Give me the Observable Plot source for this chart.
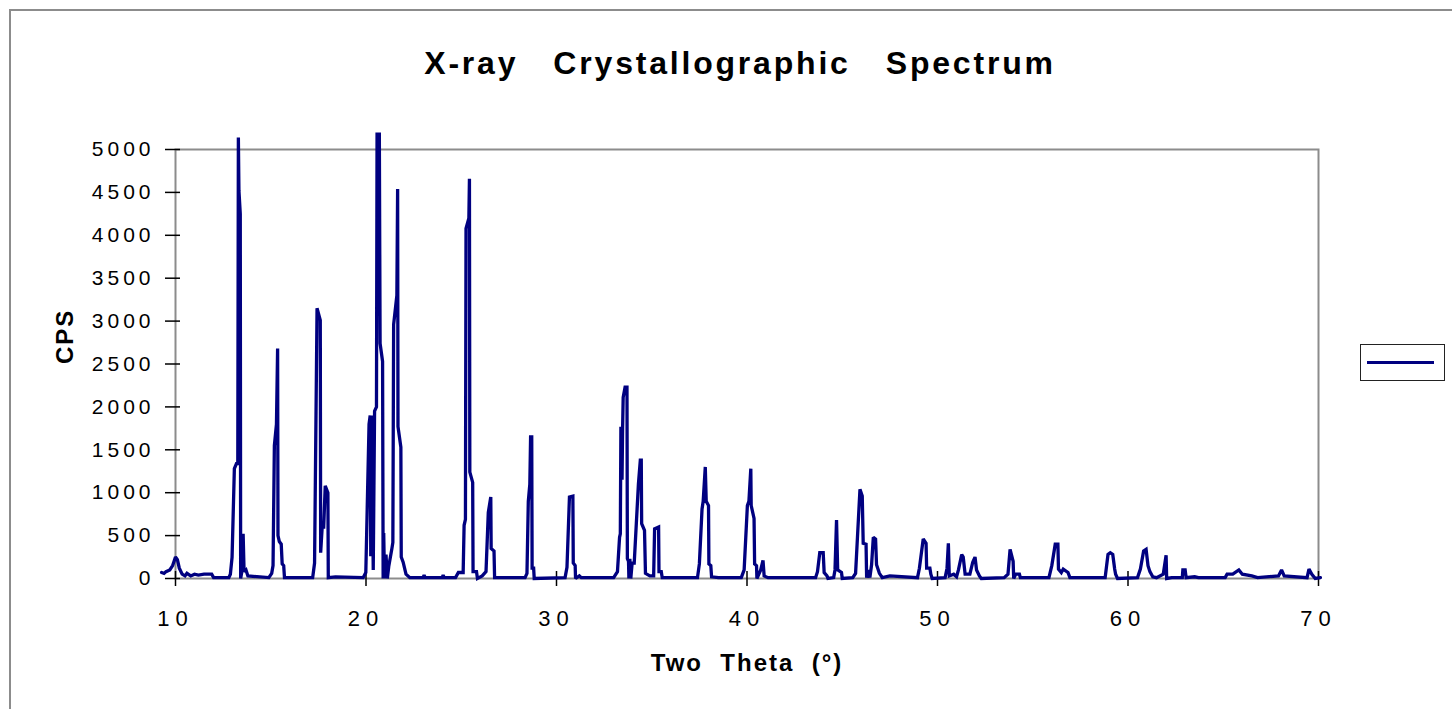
<!DOCTYPE html>
<html>
<head>
<meta charset="utf-8">
<script src="https://cdn.jsdelivr.net/npm/d3@7"></script>
<script src="https://cdn.jsdelivr.net/npm/@observablehq/plot@0.6"></script>
<style>
  html, body { margin: 0; padding: 0; background: #fff; overflow: hidden; }
  #wrap { position: relative; width: 1452px; height: 709px; font-family: "Liberation Sans", Arial, sans-serif; }
  #outer { position: absolute; left: 9px; top: 9px; width: 1500px; height: 760px; border-top: 2px solid #8c8c8c; border-left: 2px solid #8c8c8c; box-sizing: border-box; }
  #chart { position: absolute; left: 0; top: 0; }
  #legend { position: absolute; left: 1360px; top: 344px; width: 85px; height: 37px; border: 1px solid #222; box-sizing: border-box; background: #fff; }
  #legend .sw { position: absolute; left: 6px; top: 16px; width: 67px; height: 3px; background: #000080; }
</style>
</head>
<body>
<div id="wrap">
  <div id="outer"></div>
  <div id="chart"></div>
  <div id="legend"><div class="sw"></div></div>
</div>
<script>
// ---- Data ----
const chartTitle = "X-ray   Crystallographic   Spectrum";
const xLabel = "Two  Theta  (°)";
const yLabel = "CPS";
const xTicks = [10, 20, 30, 40, 50, 60, 70];
const yTicks = [0, 500, 1000, 1500, 2000, 2500, 3000, 3500, 4000, 4500, 5000];

const twoTheta = [
  9.27, 9.4, 9.5, 9.7, 9.85, 10.0, 10.1, 10.2, 10.35, 10.5, 10.6, 10.8, 11.0, 11.2, 11.5, 11.9, 12.0, 12.8,
  12.88, 12.97, 13.09, 13.2, 13.27, 13.3, 13.33, 13.4, 13.42, 13.5, 13.55, 13.6, 13.7, 13.8,
  14.9, 15.05, 15.12, 15.19, 15.3, 15.36, 15.38, 15.45, 15.55, 15.6, 15.68, 15.72,
  17.2, 17.3, 17.43, 17.6, 17.62, 17.7, 17.78, 17.86, 18.0, 18.02, 18.4,
  19.85, 19.99, 20.16, 20.22, 20.25, 20.3, 20.38, 20.45, 20.55, 20.58, 20.7, 20.74, 20.87, 20.9, 20.93, 20.97,
  21.05, 21.12, 21.2, 21.36, 21.41, 21.45, 21.62, 21.66, 21.68, 21.83, 21.85, 21.95, 22.1, 22.3,
  23.0, 23.05, 23.1, 24.0, 24.05, 24.1,
  24.7, 24.85, 25.1, 25.15, 25.22, 25.25, 25.4, 25.43, 25.45, 25.6, 25.62, 25.8, 25.85,
  26.1, 26.3, 26.42, 26.55, 26.57, 26.72, 26.75,
  28.35, 28.45, 28.52, 28.6, 28.64, 28.7, 28.72, 28.8, 28.83,
  30.45, 30.55, 30.68, 30.86, 30.88, 30.98, 31.0, 31.2, 31.3,
  33.0, 33.2, 33.31, 33.35, 33.38, 33.42, 33.44, 33.47, 33.5, 33.6, 33.7, 33.72, 33.78, 33.8, 33.85, 33.9,
  33.97, 34.08, 34.3, 34.4, 34.45, 34.47, 34.62, 34.67, 34.9, 35.1, 35.15, 35.36, 35.38, 35.5, 35.55,
  37.4, 37.5, 37.64, 37.7, 37.81, 37.86, 37.98, 38.0, 38.1, 38.14, 38.5,
  39.7, 39.85, 40.02, 40.1, 40.2, 40.22, 40.37, 40.4, 40.5, 40.52, 40.72, 40.84, 40.9, 41.1,
  43.6, 43.7, 43.82, 44.0, 44.05, 44.2, 44.25, 44.55, 44.62, 44.7, 44.76, 44.96, 45.0,
  45.55, 45.7, 45.81, 45.93, 46.05, 46.1, 46.25, 46.28, 46.35, 46.45, 46.54, 46.63, 46.75, 46.8, 46.95, 47.1, 47.5,
  48.95, 49.05, 49.25, 49.4, 49.43, 49.6, 49.65, 49.72,
  50.4, 50.5, 50.57, 50.62, 50.85, 51.0, 51.1, 51.27, 51.35, 51.45, 51.7, 51.85, 51.97, 52.05, 52.2, 52.3,
  53.5, 53.7, 53.81, 53.97, 54.0, 54.1, 54.3, 54.35,
  55.85, 56.0, 56.18, 56.32, 56.35, 56.5, 56.6, 56.85, 56.95,
  58.8, 58.95, 59.07, 59.2, 59.3, 59.35, 59.45,
  60.5, 60.65, 60.82, 60.95, 61.05, 61.15, 61.3, 61.5, 61.85, 62.0, 62.03, 62.3,
  62.85, 62.88, 63.0, 63.05, 63.5, 63.7,
  65.1, 65.2, 65.5, 65.82, 66.0, 66.5, 66.8, 67.9, 68.06, 68.2, 69.4, 69.5, 69.65, 69.83, 70.1
];
const cps = [
  70, 60, 80, 100, 150, 250, 220, 120, 50, 30, 60, 30, 50, 40, 50, 50, 10, 10,
  50, 250, 1280, 1340, 1340, 5140, 4520, 4250, 0, 100, 520, 80, 100, 30,
  10, 60, 150, 1550, 1800, 2680, 500, 430, 400, 170, 150, 10,
  10, 180, 3150, 3010, 300, 600, 600, 1080, 1000, 10, 20,
  10, 70, 1800, 1900, 260, 1900, 100, 1950, 2000, 5180, 5180, 2740, 2530, 0, 530, 0,
  280, 0, 150, 350, 420, 2960, 3300, 4540, 1770, 1530, 250, 190, 50, 10,
  10, 40, 10, 10, 40, 10,
  10, 70, 70, 620, 690, 4080, 4200, 4660, 1240, 1120, 80, 80, 0,
  30, 80, 770, 950, 350, 320, 10,
  10, 60, 900, 1100, 1650, 1650, 120, 120, 0,
  10, 130, 950, 960, 180, 150, 0, 30, 10,
  10, 80, 480, 520, 1750, 1750, 1150, 1750, 2110, 2230, 2230, 230, 200, 0, 230, 0,
  180, 180, 1100, 1380, 1380, 640, 560, 60, 30, 30, 580, 600, 80, 80, 10,
  10, 170, 810, 900, 1300, 900, 850, 170, 150, 20, 10,
  10, 100, 850, 900, 1280, 850, 700, 170, 150, 0, 100, 210, 30, 10,
  10, 80, 300, 300, 70, 30, 0, 10, 100, 680, 100, 70, 0,
  10, 60, 530, 1040, 960, 410, 400, 10, 100, 10, 160, 480, 460, 160, 60, 10, 30,
  10, 120, 460, 410, 120, 120, 50, 0,
  10, 120, 410, 30, 50, 20, 100, 280, 250, 50, 50, 190, 250, 100, 30, 0,
  10, 50, 340, 200, 0, 50, 50, 10,
  10, 150, 400, 400, 110, 70, 110, 70, 10,
  10, 280, 300, 280, 110, 50, 0,
  10, 110, 320, 340, 150, 80, 20, 10, 50, 270, 0, 10,
  10, 100, 100, 10, 20, 10,
  10, 50, 50, 100, 50, 30, 10, 30, 100, 30, 10, 110, 50, 0, 10
];

const data = twoTheta.map((x, i) => ({x, y: cps[i]}));
const xMin = xTicks[0], yMin = yTicks[0];

const chart = Plot.plot({
  width: 1452,
  height: 709,
  marginLeft: 175,
  marginRight: 134,
  marginTop: 149,
  marginBottom: 131,
  style: {fontFamily: "'Liberation Sans', Arial, sans-serif", fontSize: "21px", color: "#000", background: "transparent", overflow: "visible"},
  x: {domain: [10, 70]},
  y: {domain: [0, 5000]},
  marks: [
    Plot.frame({stroke: "#8c8c8c", strokeWidth: 2}),
    // tick marks crossing the axes (zero-length rules widened by insets)
    Plot.ruleY(yTicks, {y: d => d, x1: xMin, x2: xMin, insetLeft: -10, insetRight: -5, stroke: "#000", strokeWidth: 1.5}),
    Plot.ruleX(xTicks, {x: d => d, y1: yMin, y2: yMin, insetTop: -7, insetBottom: -8, stroke: "#000", strokeWidth: 1.5}),
    // tick labels
    Plot.axisY(yTicks, {tickSize: 0, tickPadding: 21, tickFormat: d => String(d), label: null, fontSize: 21, fill: "#000"}),
    Plot.axisX(xTicks, {tickSize: 0, tickPadding: 32, tickFormat: d => String(d), label: null, fontSize: 22, fill: "#000"}),
    Plot.line(data, {x: "x", y: "y", stroke: "#000080", strokeWidth: 3.3, strokeLinejoin: "miter", strokeMiterlimit: 2}),
    Plot.text([chartTitle], {frameAnchor: "top", lineAnchor: "middle", dy: -86, dx: -7, fontSize: 32, fontWeight: "bold", fill: "#000"}),
    Plot.text([yLabel], {frameAnchor: "left", lineAnchor: "middle", dx: -110, rotate: -90, fontSize: 24, fontWeight: "bold", fill: "#000"}),
    Plot.text([xLabel], {frameAnchor: "bottom", lineAnchor: "middle", dy: 85, fontSize: 24, fontWeight: "bold", fill: "#000"})
  ]
});

document.getElementById("chart").appendChild(chart);

// letter spacing / whitespace like the original
d3.select(chart).selectAll("text").each(function () {
  const t = this.textContent;
  this.setAttribute("xml:space", "preserve");
  this.style.whiteSpace = "pre";
  if (t === chartTitle) this.style.letterSpacing = "2.8px";
  else if (t === xLabel || t === yLabel) this.style.letterSpacing = "2px";
  else if (this.closest('[aria-label="x-axis tick label"]')) this.style.letterSpacing = "6px";
  else this.style.letterSpacing = "4px";
});
</script>
</body>
</html>
